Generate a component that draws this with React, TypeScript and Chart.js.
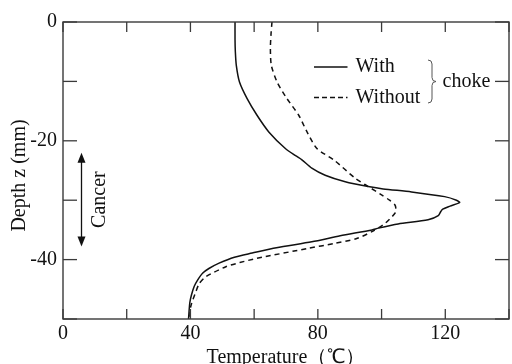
import { useEffect, useRef } from "react";
import { Chart, registerables } from "chart.js";

Chart.register(...registerables);

// ---- data (depth z in mm, temperature in °C) ----
const withDepth = [0, -3, -5, -7.3, -10.1, -12.9, -15.7, -18.5, -21.3, -22.5, -23.2, -24.6, -25.8, -26.9, -27.7, -28.1, -28.6, -29.4, -30.0, -30.4, -31.0, -31.5, -31.9, -32.6, -33.3, -34.0, -34.7, -35.0, -36.0, -37.0, -38.0, -38.9, -39.6, -40.6, -41.5, -42.3, -43.5, -44.5, -46.0, -47.3, -50];
const withTemp = [54.0, 54.0, 54.1, 54.4, 55.4, 57.8, 60.9, 64.6, 69.8, 73.0, 75.0, 78.1, 82.3, 88.6, 95.8, 100.5, 109.4, 119.8, 123.5, 124.5, 121.5, 119.2, 118.6, 117.8, 114.6, 105.2, 99.0, 97.0, 87.0, 78.1, 67.0, 59.4, 53.8, 49.0, 45.8, 43.8, 42.2, 41.2, 40.3, 39.8, 39.4];

const withoutDepth = [0, -2, -4.5, -7.3, -10.1, -12.9, -15.7, -18.5, -21.3, -23.3, -26.3, -27.7, -29.1, -30.0, -30.8, -31.5, -32.2, -33.2, -33.9, -35.2, -36.5, -37.3, -38.1, -39.8, -40.5, -41.2, -42.9, -44.0, -45.4, -47.9, -50];
const withoutTemp = [65.6, 65.3, 65.1, 65.4, 67.2, 70.3, 74.0, 76.6, 79.7, 85.2, 91.7, 95.8, 100.0, 102.5, 104.2, 104.5, 104.2, 102.5, 101.1, 97.3, 92.0, 85.0, 77.0, 60.8, 55.5, 51.1, 44.8, 42.8, 41.7, 40.1, 39.8];

const seriesLabels = ["With", "Without"];
const groupLabel = "choke";
const cancerLabel = "Cancer";
const cancerRange = [-22.0, -37.8];

const xLabeledTicks = [0, 40, 80, 120];
const yLabeledTicks = [0, -20, -40];
const xTitle = "Temperature\uFF08\u2103\uFF09";
const yTitle = "Depth z (mm)\u2002";

const FONT = "'Liberation Serif', 'Times New Roman', serif";
const INK = "#111111";
const AXIS = "#3a3a3a";

const decor = {
  id: "decor",
  afterDraw(chart: any) {
    const { ctx, chartArea: a, scales } = chart;
    const xs = scales.x;
    const ys = scales.y;
    const line = (x1: number, y1: number, x2: number, y2: number) => {
      ctx.beginPath();
      ctx.moveTo(x1, y1);
      ctx.lineTo(x2, y2);
      ctx.stroke();
    };
    ctx.save();
    // frame
    ctx.strokeStyle = AXIS;
    ctx.lineWidth = 1.4;
    ctx.strokeRect(a.left, a.top, a.right - a.left, a.bottom - a.top);
    // inward ticks
    ctx.lineWidth = 1.3;
    xs.ticks.forEach((t: any) => {
      const px = xs.getPixelForValue(t.value);
      line(px, a.bottom, px, a.bottom - 10);
      line(px, a.top, px, a.top + 10);
    });
    ys.ticks.forEach((t: any) => {
      const py = ys.getPixelForValue(t.value);
      line(a.left, py, a.left + 14, py);
      line(a.right, py, a.right - 14, py);
    });

    // legend
    ctx.strokeStyle = INK;
    ctx.lineWidth = 1.5;
    const lx1 = a.left + 251;
    const lx2 = a.left + 284.5;
    const ly1 = a.top + 45;
    const ly2 = a.top + 75.5;
    ctx.setLineDash([]);
    line(lx1, ly1, lx2, ly1);
    ctx.setLineDash([5, 3]);
    line(lx1, ly2, lx2, ly2);
    ctx.setLineDash([]);
    ctx.fillStyle = INK;
    ctx.font = `20px ${FONT}`;
    ctx.textAlign = "left";
    ctx.textBaseline = "alphabetic";
    ctx.fillText(seriesLabels[0], a.left + 292.5, a.top + 50);
    ctx.fillText(seriesLabels[1], a.left + 292.5, a.top + 81);
    // brace
    const bx = a.left + 365;
    const bt = a.top + 38;
    const bb = a.top + 81;
    const bm = (bt + bb) / 2;
    ctx.strokeStyle = "#555555";
    ctx.lineWidth = 1;
    ctx.beginPath();
    ctx.moveTo(bx, bt);
    ctx.quadraticCurveTo(bx + 4, bt, bx + 4, bt + 4);
    ctx.lineTo(bx + 4, bm - 4);
    ctx.quadraticCurveTo(bx + 4, bm, bx + 8, bm);
    ctx.quadraticCurveTo(bx + 4, bm, bx + 4, bm + 4);
    ctx.lineTo(bx + 4, bb - 4);
    ctx.quadraticCurveTo(bx + 4, bb, bx, bb);
    ctx.stroke();
    ctx.fillText(groupLabel, a.left + 379.5, a.top + 64.8);

    // cancer arrow
    const ax = a.left + 18.5;
    const yTop = ys.getPixelForValue(cancerRange[0]);
    const yBot = ys.getPixelForValue(cancerRange[1]);
    ctx.strokeStyle = INK;
    ctx.lineWidth = 1.3;
    line(ax, yTop + 8, ax, yBot - 8);
    ctx.beginPath();
    ctx.moveTo(ax, yTop);
    ctx.lineTo(ax - 4, yTop + 10);
    ctx.lineTo(ax + 4, yTop + 10);
    ctx.closePath();
    ctx.fill();
    ctx.beginPath();
    ctx.moveTo(ax, yBot);
    ctx.lineTo(ax - 4, yBot - 10);
    ctx.lineTo(ax + 4, yBot - 10);
    ctx.closePath();
    ctx.fill();
    ctx.save();
    ctx.translate(a.left + 37, (yTop + yBot) / 2);
    ctx.rotate(-Math.PI / 2);
    ctx.textAlign = "center";
    ctx.textBaseline = "middle";
    ctx.fillText(cancerLabel, 0, 0);
    ctx.restore();

    ctx.restore();
  },
};

export default function App() {
  const ref = useRef<HTMLCanvasElement | null>(null);
  useEffect(() => {
    if (!ref.current) return;
    const withPts = withDepth.map((z, i) => ({ x: withTemp[i], y: z }));
    const withoutPts = withoutDepth.map((z, i) => ({ x: withoutTemp[i], y: z }));
    const chart = new Chart(ref.current, {
      type: "scatter",
      data: {
        datasets: [
          {
            label: seriesLabels[0],
            data: withPts,
            showLine: true,
            borderColor: INK,
            borderWidth: 1.5,
            pointRadius: 0,
            tension: 0.25,
          },
          {
            label: seriesLabels[1],
            data: withoutPts,
            showLine: true,
            borderColor: INK,
            borderWidth: 1.5,
            borderDash: [5, 4],
            pointRadius: 0,
            tension: 0.25,
          },
        ],
      },
      options: {
        responsive: false,
        animation: false,
        layout: { padding: { top: 22, right: 2, left: 0, bottom: 0 } },
        plugins: { legend: { display: false }, tooltip: { enabled: false } },
        scales: {
          x: {
            type: "linear",
            min: 0,
            max: 140,
            grid: { display: false, drawTicks: false },
            border: { display: false },
            afterFit: (s: any) => {
              s.height = 45;
            },
            ticks: {
              stepSize: 20,
              autoSkip: false,
              maxRotation: 0,
              padding: 3,
              color: INK,
              font: { family: FONT, size: 20 },
              callback: (v: any) => (xLabeledTicks.includes(Number(v)) ? String(v) : ""),
            },
            title: {
              display: true,
              text: xTitle,
              color: INK,
              font: { family: FONT, size: 20, lineHeight: 0.6 },
              padding: { top: 0, bottom: 0 },
            },
          },
          y: {
            type: "linear",
            min: -50,
            max: 0,
            grid: { display: false, drawTicks: false },
            border: { display: false },
            afterFit: (s: any) => {
              s.width = 63;
            },
            ticks: {
              stepSize: 10,
              autoSkip: false,
              padding: 6,
              color: INK,
              font: { family: FONT, size: 20 },
              callback: (v: any) => (yLabeledTicks.includes(Number(v)) ? String(v) : ""),
            },
            title: {
              display: true,
              text: yTitle,
              color: INK,
              font: { family: FONT, size: 20, lineHeight: 1 },
              padding: { top: 10, bottom: 0 },
            },
          },
        },
      },
      plugins: [decor],
    });
    return () => chart.destroy();
  }, []);
  return (
    <div style={{ position: "absolute", left: 0, top: 0, width: 512, height: 364, background: "#fff" }}>
      <canvas ref={ref} width={512} height={364} />
    </div>
  );
}
